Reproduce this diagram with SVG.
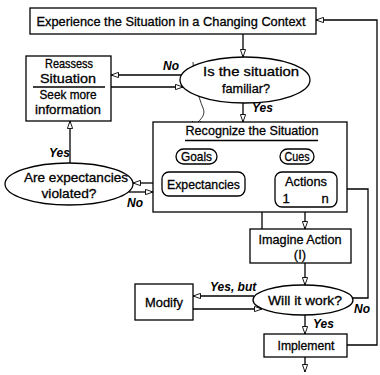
<svg xmlns="http://www.w3.org/2000/svg" width="380" height="375" viewBox="0 0 380 375">
<style>
.box{fill:#fff;stroke:#000;stroke-width:1.3}
.pill{fill:#fff;stroke:#000;stroke-width:1.3}
.ln{fill:none;stroke:#000;stroke-width:1.3}
.t{font-family:"Liberation Sans",Arial,sans-serif;font-size:13px;fill:#000;stroke:#000;stroke-width:0.3;text-anchor:middle}
.lb{font-family:"Liberation Sans",Arial,sans-serif;font-size:12px;font-style:italic;font-weight:bold;fill:#000}
</style>
<defs>
<marker id="ah" viewBox="0 0 10 8" refX="10" refY="4" markerWidth="8" markerHeight="6" markerUnits="userSpaceOnUse" orient="auto">
<path d="M0,0.5 L10,4 L0,7.5 z" fill="#fff" stroke="#000" stroke-width="1.2"/>
</marker>
</defs>
<rect width="380" height="375" fill="#fff"/>

<g id="connectors">
<line class="ln" x1="243" y1="34" x2="243" y2="57" marker-end="url(#ah)"/>
<line class="ln" x1="182" y1="75" x2="111" y2="75" marker-end="url(#ah)"/>
<line class="ln" x1="111" y1="87" x2="183" y2="87" marker-end="url(#ah)"/>
<line class="ln" x1="243" y1="103" x2="243" y2="122" marker-end="url(#ah)"/>
<line class="ln" x1="162" y1="183" x2="133" y2="183" marker-end="url(#ah)"/>
<line class="ln" x1="129" y1="192" x2="153" y2="192" marker-end="url(#ah)"/>
<line class="ln" x1="70" y1="163" x2="70" y2="121" marker-end="url(#ah)"/>
<line class="ln" x1="262" y1="229" x2="262" y2="141" marker-end="url(#ah)"/>
<line class="ln" x1="305" y1="207" x2="305" y2="229" marker-end="url(#ah)"/>
<polyline class="ln" points="353,298 368,298 368,189 337,189" marker-end="url(#ah)"/>
<line class="ln" x1="305" y1="263" x2="305" y2="285" marker-end="url(#ah)"/>
<line class="ln" x1="254" y1="296" x2="193" y2="296" marker-end="url(#ah)"/>
<line class="ln" x1="193" y1="309" x2="262" y2="309" marker-end="url(#ah)"/>
<line class="ln" x1="305" y1="315" x2="305" y2="334" marker-end="url(#ah)"/>
<polyline class="ln" points="347,345 377,345 377,20 316,20" marker-end="url(#ah)"/>
<line class="ln" x1="305" y1="357" x2="305" y2="372" marker-end="url(#ah)"/>
<path d="M193,62 C194,80 198,96 203,108 C206,115 201,119 196,124 M192,121 L197,126 L201,121" fill="none" stroke="#000" stroke-width="0.8"/>
</g>

<g id="experience">
<rect class="box" x="30" y="8" width="286" height="26"/>
<text class="t" x="171" y="25.5" textLength="269" lengthAdjust="spacingAndGlyphs">Experience the Situation in a Changing Context</text>
</g>

<g id="familiar">
<ellipse class="box" cx="245" cy="80" rx="65" ry="23"/>
<text class="t" x="251" y="76" textLength="96" lengthAdjust="spacingAndGlyphs">Is the situation</text>
<text class="t" x="246" y="93" textLength="48" lengthAdjust="spacingAndGlyphs">familiar?</text>
</g>

<g id="reassess">
<rect class="box" x="26" y="56" width="85" height="65"/>
<line class="ln" x1="33" y1="87" x2="105" y2="87"/>
<text class="t" x="69" y="68" textLength="48" lengthAdjust="spacingAndGlyphs">Reassess</text>
<text class="t" x="68" y="83" textLength="56" lengthAdjust="spacingAndGlyphs">Situation</text>
<text class="t" x="68" y="99" textLength="57" lengthAdjust="spacingAndGlyphs">Seek more</text>
<text class="t" x="68" y="114" textLength="66" lengthAdjust="spacingAndGlyphs">information</text>
</g>

<g id="recognize">
<rect class="box" x="153" y="122" width="194" height="90"/>
<text class="t" x="252" y="135" textLength="133" lengthAdjust="spacingAndGlyphs">Recognize the Situation</text>
<line class="ln" x1="185" y1="140.5" x2="318" y2="140.5"/>
</g>

<g id="goals">
<rect class="pill" x="176" y="149" width="41" height="15" rx="7.5"/>
<text class="t" x="196.5" y="161" textLength="31" lengthAdjust="spacingAndGlyphs">Goals</text>
</g>

<g id="cues">
<rect class="pill" x="280" y="149" width="34" height="15" rx="7.5"/>
<text class="t" x="297" y="161" textLength="25" lengthAdjust="spacingAndGlyphs">Cues</text>
</g>

<g id="expectancies">
<rect class="pill" x="162" y="172" width="83" height="24" rx="7"/>
<text class="t" x="203.5" y="188.5" textLength="73" lengthAdjust="spacingAndGlyphs">Expectancies</text>
</g>

<g id="actions">
<rect class="pill" x="275" y="172" width="62" height="35" rx="7"/>
<text class="t" x="306" y="186" textLength="42" lengthAdjust="spacingAndGlyphs">Actions</text>
<text class="t" x="286" y="203">1</text>
<text class="t" x="325" y="203">n</text>
</g>

<g id="violated">
<ellipse class="box" cx="69" cy="184" rx="64" ry="21"/>
<text class="t" x="76" y="182" textLength="104" lengthAdjust="spacingAndGlyphs">Are expectancies</text>
<text class="t" x="69" y="197.5" textLength="55" lengthAdjust="spacingAndGlyphs">violated?</text>
</g>

<g id="imagine">
<rect class="box" x="250" y="229" width="101" height="34"/>
<text class="t" x="300" y="244" textLength="83" lengthAdjust="spacingAndGlyphs">Imagine Action</text>
<text class="t" x="300" y="258.5">(I)</text>
</g>

<g id="willwork">
<ellipse class="box" cx="303" cy="300" rx="50" ry="15"/>
<text class="t" x="305" y="305" textLength="74" lengthAdjust="spacingAndGlyphs">Will it work?</text>
</g>

<g id="modify">
<rect class="box" x="135" y="284" width="58" height="36"/>
<text class="t" x="164" y="306.5" textLength="38" lengthAdjust="spacingAndGlyphs">Modify</text>
</g>

<g id="implement">
<rect class="box" x="264" y="334" width="83" height="23"/>
<text class="t" x="306" y="349.5" textLength="57" lengthAdjust="spacingAndGlyphs">Implement</text>
</g>

<g id="labels">
<text class="lb" x="163" y="70">No</text>
<text class="lb" x="252" y="112">Yes</text>
<text class="lb" x="49" y="157">Yes</text>
<text class="lb" x="127" y="207">No</text>
<text class="lb" x="210" y="291">Yes, but</text>
<text class="lb" x="354" y="313">No</text>
<text class="lb" x="313" y="328">Yes</text>
</g>
</svg>
